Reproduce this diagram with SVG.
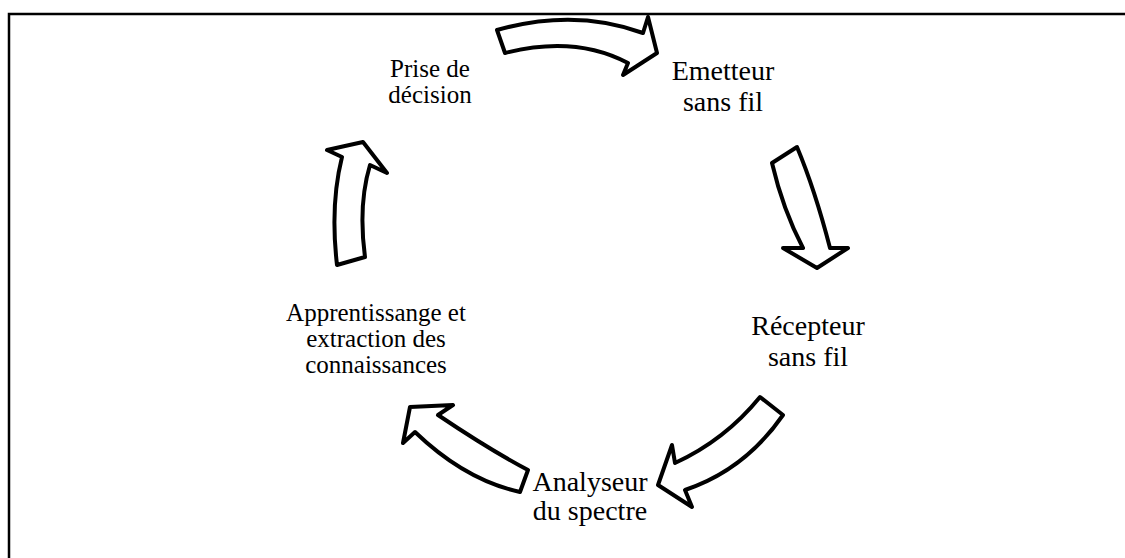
<svg xmlns="http://www.w3.org/2000/svg" width="1125" height="558" viewBox="0 0 1125 558">
<style>
.arr{fill:#fff;stroke:#000;stroke-width:4;stroke-linejoin:round}
.t{font-family:"Liberation Serif","Times New Roman",serif;fill:#000;text-anchor:middle}
.a{font-size:25px}
.b{font-size:28px}
</style>
<rect width="1125" height="558" fill="#fff"/>
<path d="M9,558 V14 H1125" fill="none" stroke="#000" stroke-width="2.5"/>
<g id="connectors">
<path class="arr" d="M497,30 Q575,8 643,33 L648,17 L657,53 L623,75 L628,63 Q575,35 505,53 Z"/>
<path class="arr" d="M772,163 Q783,210 803,248 L783,248 L817,268 L848,248 L830,248 Q815,190 797,147 Z"/>
<path class="arr" d="M760,397 Q725,440 675,463 L672,445 L658,485 L692,507 L685,490 Q745,470 783,415 Z"/>
<path class="arr" d="M528,470 Q490,450 438,415 L453,405 L410,407 L403,443 L415,432 Q465,480 520,492 Z"/>
<path class="arr" d="M337,265 Q330,205 342,157 L327,150 L363,142 L387,173 L370,165 Q358,205 365,257 Z"/>
</g>
<g id="node-emetteur"><text class="t b" x="723" y="80">Emetteur</text><text class="t b" x="723" y="111">sans fil</text></g>
<g id="node-recepteur"><text class="t b" x="808" y="335">Récepteur</text><text class="t b" x="808" y="366">sans fil</text></g>
<g id="node-analyseur"><text class="t b" x="590" y="491">Analyseur</text><text class="t b" x="590" y="520">du spectre</text></g>
<g id="node-apprentissage"><text class="t a" x="376" y="321">Apprentissange et</text><text class="t a" x="376" y="347">extraction des</text><text class="t a" x="376" y="373">connaissances</text></g>
<g id="node-decision"><text class="t a" x="430" y="77">Prise de</text><text class="t a" x="430" y="103">décision</text></g>
</svg>
